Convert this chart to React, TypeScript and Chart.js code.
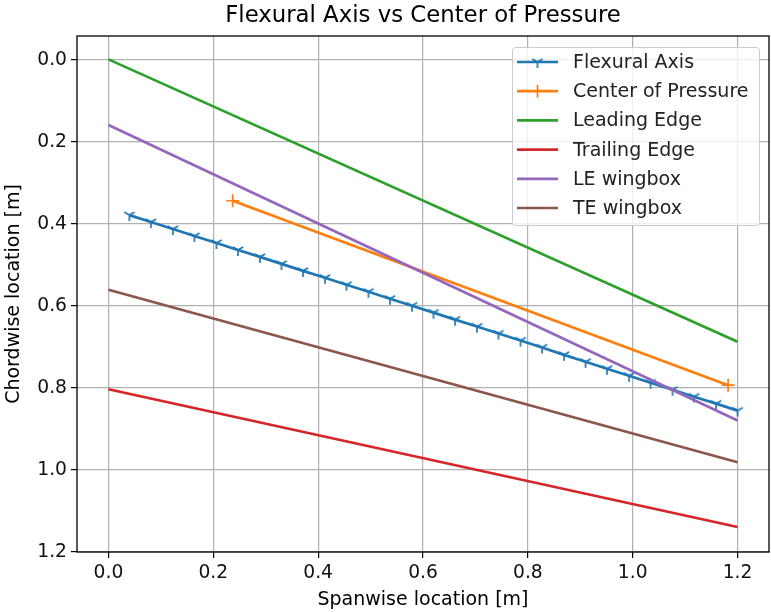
import React, { useEffect, useRef } from "react";
import { Chart, registerables } from "chart.js";

Chart.register(...registerables);

const TITLE = "Flexural Axis vs Center of Pressure";
const X_LABEL = "Spanwise location [m]";
const Y_LABEL = "Chordwise location [m]";

const xTicks = [0.0, 0.2, 0.4, 0.6, 0.8, 1.0, 1.2];
const yTicks = [0.0, 0.2, 0.4, 0.6, 0.8, 1.0, 1.2];

const flexX = [0.04, 0.081, 0.123, 0.164, 0.206, 0.247, 0.289, 0.33, 0.371, 0.413, 0.454, 0.496, 0.537, 0.579, 0.62, 0.661, 0.703, 0.744, 0.786, 0.827, 0.869, 0.91, 0.951, 0.993, 1.034, 1.076, 1.117, 1.159, 1.2];
const flexY = [0.38, 0.397, 0.414, 0.431, 0.448, 0.465, 0.482, 0.499, 0.516, 0.533, 0.55, 0.567, 0.584, 0.601, 0.618, 0.635, 0.652, 0.669, 0.686, 0.703, 0.721, 0.738, 0.755, 0.772, 0.789, 0.806, 0.823, 0.84, 0.857];

const copX = [0.237, 1.182];
const copY = [0.345, 0.795];

const edgeX = [0.0, 1.2];
const leY = [0.0, 0.689];
const teY = [0.805, 1.141];
const leBoxY = [0.16, 0.881];
const teBoxY = [0.562, 0.983];

const names = ["Flexural Axis", "Center of Pressure", "Leading Edge", "Trailing Edge", "LE wingbox", "TE wingbox"];
const colors = ["#1f77b4", "#ff7f0e", "#2ca02c", "#d62728", "#9467bd", "#8c564b"];

const FONT = "'DejaVu Sans', sans-serif";

function pts(xs: number[], ys: number[]) {
  return xs.map((x, i) => ({ x, y: ys[i] }));
}

function makeTri(color: string) {
  const c = document.createElement("canvas");
  c.width = 16;
  c.height = 16;
  const g = c.getContext("2d")!;
  g.strokeStyle = color;
  g.lineWidth = 1.7;
  g.lineCap = "butt";
  const cx = 8, cy = 8, r = 6;
  g.beginPath();
  g.moveTo(cx, cy);
  g.lineTo(cx, cy + r);
  g.moveTo(cx, cy);
  g.lineTo(cx - r * 0.866, cy - r * 0.5);
  g.moveTo(cx, cy);
  g.lineTo(cx + r * 0.866, cy - r * 0.5);
  g.stroke();
  return c;
}

export default function App() {
  const ref = useRef<HTMLCanvasElement>(null);

  useEffect(() => {
    document.body.style.margin = "0";
    const tri = makeTri(colors[0]);
    const series = [
      pts(flexX, flexY),
      pts(copX, copY),
      pts(edgeX, leY),
      pts(edgeX, teY),
      pts(edgeX, leBoxY),
      pts(edgeX, teBoxY),
    ];
    const datasets: any[] = series.map((d, i) => ({
      label: names[i],
      data: d,
      showLine: true,
      borderColor: colors[i],
      backgroundColor: colors[i],
      borderWidth: 2.7,
      pointRadius: i === 0 ? 7 : i === 1 ? 6.5 : 0,
      pointStyle: i === 0 ? tri : i === 1 ? "cross" : "circle",
      pointBorderWidth: 1.7,
      order: -i,
    }));

    const overlay = {
      id: "overlay",
      afterDraw(chart: any) {
        const ctx = chart.ctx as CanvasRenderingContext2D;
        const a = chart.chartArea;
        const sx = chart.scales.x;
        const sy = chart.scales.y;
        ctx.save();
        // spines
        ctx.strokeStyle = "#000";
        ctx.lineWidth = 1.3;
        ctx.strokeRect(a.left, a.top, a.right - a.left, a.bottom - a.top);
        // tick labels
        ctx.fillStyle = "#111";
        ctx.font = `18.7px ${FONT}`;
        ctx.textAlign = "center";
        ctx.textBaseline = "middle";
        xTicks.forEach((v) => ctx.fillText(v.toFixed(1), sx.getPixelForValue(v), a.bottom + 21));
        ctx.textAlign = "right";
        yTicks.forEach((v) => ctx.fillText(v.toFixed(1), a.left - 10, sy.getPixelForValue(v) + 1));
        // title
        ctx.fillStyle = "#000";
        ctx.textAlign = "center";
        ctx.textBaseline = "middle";
        ctx.font = `22.8px ${FONT}`;
        ctx.fillText(TITLE, (a.left + a.right) / 2, 16);
        ctx.font = `19px ${FONT}`;
        ctx.fillText(X_LABEL, (a.left + a.right) / 2, 600);
        ctx.save();
        ctx.translate(14, (a.top + a.bottom) / 2);
        ctx.rotate(-Math.PI / 2);
        ctx.fillText(Y_LABEL, 0, 0);
        ctx.restore();
        // legend
        const bx = 512, by = 47, bw = 247, bh = 178;
        ctx.fillStyle = "rgba(255,255,255,0.8)";
        ctx.strokeStyle = "#cccccc";
        ctx.lineWidth = 1;
        ctx.beginPath();
        (ctx as any).roundRect(bx + 0.5, by + 0.5, bw, bh, 3);
        ctx.fill();
        ctx.stroke();
        ctx.font = `19px ${FONT}`;
        ctx.textAlign = "left";
        ctx.textBaseline = "middle";
        for (let i = 0; i < names.length; i++) {
          const ry = 62 + i * 29.2;
          ctx.strokeStyle = colors[i];
          ctx.lineWidth = 2.7;
          ctx.beginPath();
          ctx.moveTo(517, ry);
          ctx.lineTo(558, ry);
          ctx.stroke();
          if (i === 0) {
            ctx.drawImage(tri, 537.5 - 8, ry - 8);
          } else if (i === 1) {
            ctx.lineWidth = 1.7;
            ctx.beginPath();
            ctx.moveTo(537.5, ry - 6.5);
            ctx.lineTo(537.5, ry + 6.5);
            ctx.moveTo(531, ry);
            ctx.lineTo(544, ry);
            ctx.stroke();
          }
          ctx.fillStyle = "#222";
          ctx.fillText(names[i], 573, ry + 1);
        }
        ctx.restore();
      },
    };

    const chart = new Chart(ref.current!, {
      type: "scatter",
      data: { datasets },
      options: {
        animation: false,
        responsive: false,
        devicePixelRatio: 1,
        layout: { autoPadding: false, padding: { top: 36, right: 2, left: 0, bottom: 0 } },
        plugins: {
          legend: { display: false },
          title: { display: false },
          tooltip: { enabled: false },
        },
        scales: {
          x: {
            type: "linear",
            min: -0.06,
            max: 1.26,
            afterFit(s: any) {
              s.height = 60;
            },
            afterBuildTicks(s: any) {
              s.ticks = xTicks.map((v) => ({ value: v }));
            },
            ticks: { display: false },
            grid: {
              color: "#b0b0b0",
              lineWidth: 1.2,
              tickColor: "#000",
              tickLength: 6,
            },
            border: { display: false },
          },
          y: {
            type: "linear",
            reverse: true,
            min: -0.057,
            max: 1.202,
            afterFit(s: any) {
              s.width = 77;
            },
            afterBuildTicks(s: any) {
              s.ticks = yTicks.map((v) => ({ value: v }));
            },
            ticks: { display: false },
            grid: {
              color: "#b0b0b0",
              lineWidth: 1.2,
              tickColor: "#000",
              tickLength: 6,
            },
            border: { display: false },
          },
        },
      },
      plugins: [overlay],
    } as any);
    return () => chart.destroy();
  }, []);

  return (
    <div style={{ width: 771, height: 612, background: "#fff" }}>
      <canvas ref={ref} width={771} height={612} style={{ display: "block" }} />
    </div>
  );
}
